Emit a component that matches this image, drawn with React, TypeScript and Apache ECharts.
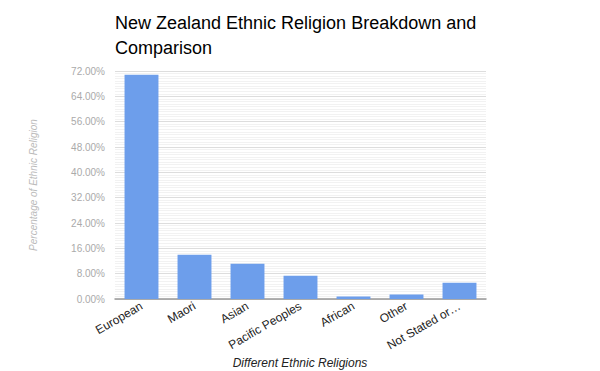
import React, { useEffect, useRef } from "react";
import * as echarts from "echarts";

const categories = ["European", "Maori", "Asian", "Pacific Peoples", "African", "Other", "Not Stated or Not Elsewhere Included"];
const values = [70.8, 14.0, 11.1, 7.35, 0.8, 1.45, 5.15];
const yTicks = { min: 0, max: 72, interval: 8 };
const xAxisTitle = "Different Ethnic Religions";
const yAxisTitle = "Percentage of Ethnic Religion";

export default function App() {
  const ref = useRef<HTMLDivElement>(null);
  useEffect(() => {
    const chart = echarts.init(ref.current!, undefined, { renderer: "svg" });
    chart.setOption({
      animation: false,
      backgroundColor: "#ffffff",
      title: {
        text: "New Zealand Ethnic Religion Breakdown and\nComparison",
        left: 115,
        top: 10,
        padding: 0,
        textStyle: {
          fontFamily: "'Liberation Sans', Arial, sans-serif",
          fontSize: 18,
          fontWeight: "normal",
          color: "#000000",
          lineHeight: 25,
        },
      },
      graphic: [
        {
          type: "text",
          x: 300,
          y: 363,
          style: {
            text: xAxisTitle,
            x: 0,
            y: 0,
            align: "center",
            verticalAlign: "middle",
            fontFamily: "'Liberation Sans', Arial, sans-serif",
            fontSize: 12,
            fontStyle: "italic",
            fill: "#222222",
          },
        },
      ],
      grid: { left: 115, right: 114, top: 71, bottom: 72, containLabel: false, outerBoundsMode: "none" },
      xAxis: {
        type: "category",
        data: categories,
        axisLine: { lineStyle: { color: "#999999", width: 1.5 } },
        axisTick: { show: false },
        axisLabel: {
          rotate: 30,
          interval: 0,
          margin: 6,
          fontFamily: "'Liberation Sans', Arial, sans-serif",
          fontSize: 12,
          color: "#222222",
          formatter: (v: string) => (v.length > 15 ? "Not Stated or…" : v),
        },
      },
      yAxis: {
        type: "value",
        min: yTicks.min,
        max: yTicks.max,
        interval: yTicks.interval,
        name: yAxisTitle,
        nameLocation: "middle",
        nameGap: 77,
        nameMoveOverlap: false,
        nameTextStyle: {
          fontFamily: "'Liberation Sans', Arial, sans-serif",
          fontSize: 10,
          fontStyle: "italic",
          color: "#bbbbbb",
        },
        axisLine: { show: false },
        axisTick: { show: false },
        axisLabel: {
          margin: 10,
          fontFamily: "'Liberation Sans', Arial, sans-serif",
          fontSize: 10,
          color: "#aaaaaa",
          formatter: (v: number) => v.toFixed(2) + "%",
        },
        splitLine: { lineStyle: { color: "#dddddd", width: 1 } },
        minorTick: { show: false, splitNumber: 10 },
        minorSplitLine: { show: true, lineStyle: { color: "#f2f2f2", width: 1 } },
      },
      series: [
        {
          type: "bar",
          data: values,
          barWidth: "64%",
          itemStyle: { color: "#6d9eeb" },
        },
      ],
    });
    return () => chart.dispose();
  }, []);
  return <div ref={ref} style={{ width: 600, height: 371, position: "absolute", left: 0, top: 0 }} />;
}
